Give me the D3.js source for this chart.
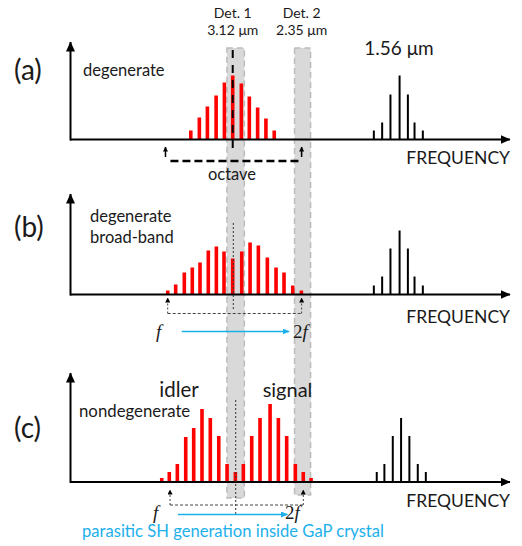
<!DOCTYPE html>
<html>
<head>
<meta charset="utf-8" />
<script src="https://cdn.jsdelivr.net/npm/d3@7"></script>
<style>
  body { margin: 0; background: #fff; }
  svg text { font-family: Lato, "Open Sans", sans-serif; fill: #1a1a1a; }
</style>
</head>
<body>
<div id="chart"></div>
<script>
// comb line positions (mode units) and heights (arbitrary units)
var redA_pos = [14.55, 15.58, 16.55, 17.6, 18.6, 19.6, 20.64, 21.6, 22.6, 23.6, 24.6];
var redA_h   = [9, 22, 33, 44, 57, 64, 56, 43, 32, 21, 9];
var blackA_pos = [36.6, 37.6, 38.6, 39.7, 40.7, 41.5, 42.5];
var blackA_h   = [9, 17, 45, 64, 45, 17, 9];

var redB_pos = [11.77, 12.73, 13.77, 14.73, 15.66, 16.66, 17.63, 18.55, 19.6, 20.69, 21.69, 22.69, 23.77, 24.82, 25.78, 26.83, 27.87];
var redB_h   = [4, 10, 22, 27, 32, 44, 48, 43, 36, 43, 52, 49, 37, 27, 22, 9, 4];
var blackB_pos = [36.6, 37.6, 38.6, 39.7, 40.7, 41.5, 42.5];
var blackB_h   = [9, 18, 46, 64, 46, 18, 9];

var redC_pos = [11.05, 11.96, 12.93, 13.94, 14.9, 15.9, 16.9, 17.92, 18.92, 19.92, 20.88, 21.89, 22.89, 24.1, 25.1, 26.1, 27.14, 28.1, 29.04];
var redC_h   = [4, 10, 18, 45, 54, 73, 64, 46, 18, 10, 18, 46, 64, 78, 64, 46, 18, 10, 4];
var blackC_pos = [36.95, 37.87, 38.88, 39.88, 40.88, 41.89, 42.86];
var blackC_h   = [10, 18, 46, 64, 46, 18, 10];

// detector windows (mode units)
var detBands = [[18.9, 21.0], [27.05, 28.98]];
var detLabels = [["Det. 1", "3.12 \u03bcm"], ["Det. 2", "2.35 \u03bcm"]];
var detCenters = [19.6, 27.9];

var panels = [
  { id: "(a)", base: 139.5, top: 42, red: [redA_pos, redA_h], black: [blackA_pos, blackA_h], freqY: 164, labelY: 80 },
  { id: "(b)", base: 294.5, top: 194, red: [redB_pos, redB_h], black: [blackB_pos, blackB_h], freqY: 323, labelY: 237 },
  { id: "(c)", base: 482, top: 373, red: [redC_pos, redC_h], black: [blackC_pos, blackC_h], freqY: 506.5, labelY: 438 }
];

var W = 522, H = 546;
var svg = d3.select("#chart").append("svg").attr("width", W).attr("height", H);

var x = d3.scaleLinear().domain([0, 53]).range([70, 510]);

var defs = svg.append("defs");
function marker(id, color, w, h) {
  defs.append("marker")
    .attr("id", id)
    .attr("markerUnits", "userSpaceOnUse")
    .attr("viewBox", "0 " + (-h / 2) + " " + w + " " + h)
    .attr("markerWidth", w).attr("markerHeight", h)
    .attr("refX", w - 0.5).attr("refY", 0)
    .attr("orient", "auto")
    .append("path")
    .attr("d", "M0," + (-h / 2) + "L" + w + ",0L0," + (h / 2) + "Z")
    .attr("fill", color);
}
marker("axisHead", "#000", 10, 9);
marker("smallHead", "#000", 5, 5);
marker("blueHead", "#1cb0eb", 7, 6);

// grey detector bands spanning the three panels
var bandBottoms = [498, 495];
svg.selectAll("rect.band")
  .data(detBands).enter()
  .append("rect")
  .attr("class", "band")
  .attr("x", function (d) { return x(d[0]); })
  .attr("width", function (d) { return x(d[1]) - x(d[0]); })
  .attr("y", 48)
  .attr("height", function (d, i) { return bandBottoms[i] - 48; })
  .attr("fill", "#d9d9d9")
  .attr("stroke", "#bcbcbc")
  .attr("stroke-width", 1.5)
  .attr("stroke-dasharray", "6,4");

panels.forEach(function (p) {
  var y = d3.scaleLinear().domain([0, 100]).range([p.base, p.base - 100]);
  var g = svg.append("g");

  // red comb
  g.selectAll("rect.red")
    .data(d3.zip(p.red[0], p.red[1])).enter()
    .append("rect")
    .attr("x", function (d) { return x(d[0]) - 1.8; })
    .attr("width", 3.6)
    .attr("y", function (d) { return y(d[1]); })
    .attr("height", function (d) { return y(0) - y(d[1]); })
    .attr("fill", "#ff0000");

  // pump comb
  g.selectAll("line.pump")
    .data(d3.zip(p.black[0], p.black[1])).enter()
    .append("line")
    .attr("x1", function (d) { return x(d[0]); })
    .attr("x2", function (d) { return x(d[0]); })
    .attr("y1", y(0))
    .attr("y2", function (d) { return y(d[1]); })
    .attr("stroke", "#000")
    .attr("stroke-width", 2);

  // axes
  g.append("line")
    .attr("x1", 70.5).attr("x2", 70.5)
    .attr("y1", p.base + 1).attr("y2", p.top)
    .attr("stroke", "#000").attr("stroke-width", 2)
    .attr("marker-end", "url(#axisHead)");
  g.append("line")
    .attr("x1", 70).attr("x2", x(53))
    .attr("y1", p.base).attr("y2", p.base)
    .attr("stroke", "#000").attr("stroke-width", 2)
    .attr("marker-end", "url(#axisHead)");

  g.append("text")
    .attr("x", 510).attr("y", p.freqY)
    .attr("text-anchor", "end")
    .style("font-size", "17.5px")
    .text("FREQUENCY");

  g.append("text")
    .attr("x", 14).attr("y", p.labelY)
    .style("font-size", "28px")
    .text(p.id);
});

// ---- panel (a) annotations
svg.append("text").attr("x", 83).attr("y", 76).style("font-size", "16.5px").text("degenerate");

detLabels.forEach(function (d, i) {
  svg.append("text").attr("x", x(detCenters[i])).attr("y", 17.5)
    .attr("text-anchor", "middle").style("font-size", "14px").text(d[0]);
  svg.append("text").attr("x", x(detCenters[i])).attr("y", 34.5)
    .attr("text-anchor", "middle").style("font-size", "14px").text(d[1]);
});
svg.append("text").attr("x", 399).attr("y", 55)
  .attr("text-anchor", "middle").style("font-size", "19px").text("1.56 \u03bcm");

svg.append("line")
  .attr("x1", x(19.6)).attr("x2", x(19.6))
  .attr("y1", 50).attr("y2", 150)
  .attr("stroke", "#000").attr("stroke-width", 2)
  .attr("stroke-dasharray", "8,7");

var octave = [11.5, 27.9];
octave.forEach(function (u) {
  svg.append("line")
    .attr("x1", x(u)).attr("x2", x(u))
    .attr("y1", 157).attr("y2", 147)
    .attr("stroke", "#000").attr("stroke-width", 1.5)
    .attr("marker-end", "url(#smallHead)");
});
svg.append("line")
  .attr("x1", x(12.1)).attr("x2", x(27.9))
  .attr("y1", 161).attr("y2", 161)
  .attr("stroke", "#000").attr("stroke-width", 2.5)
  .attr("stroke-dasharray", "8,4");
svg.append("text").attr("x", 232).attr("y", 180)
  .attr("text-anchor", "middle").style("font-size", "16.5px").text("octave");

// ---- panel (b) annotations
svg.append("text").attr("x", 90).attr("y", 221.5).style("font-size", "16.5px").text("degenerate");
svg.append("text").attr("x", 90).attr("y", 243).style("font-size", "16.5px").text("broad-band");

function harmonicBracket(u1, u2, tipY, lineY, midU, midTop, midBottom) {
  [u1, u2].forEach(function (u) {
    svg.append("line")
      .attr("x1", x(u)).attr("x2", x(u))
      .attr("y1", lineY).attr("y2", tipY)
      .attr("stroke", "#444").attr("stroke-width", 1)
      .attr("stroke-dasharray", "2,2")
      .attr("marker-end", "url(#smallHead)");
  });
  svg.append("line")
    .attr("x1", x(u1)).attr("x2", x(u2))
    .attr("y1", lineY).attr("y2", lineY)
    .attr("stroke", "#444").attr("stroke-width", 1)
    .attr("stroke-dasharray", "3,2");
  svg.append("line")
    .attr("x1", x(midU)).attr("x2", x(midU))
    .attr("y1", midTop).attr("y2", midBottom)
    .attr("stroke", "#333").attr("stroke-width", 1)
    .attr("stroke-dasharray", "2,2");
}
function fLabels(fx, f2x, yy) {
  svg.append("text").attr("x", fx).attr("y", yy)
    .style("font-family", "'Liberation Serif', 'DejaVu Serif', serif")
    .style("font-style", "italic").style("font-size", "19px").text("f");
  svg.append("text").attr("x", f2x).attr("y", yy)
    .style("font-family", "'Liberation Serif', 'DejaVu Serif', serif")
    .style("font-size", "19px")
    .text("2").append("tspan").style("font-style", "italic").text("f");
}
function blueArrow(u1, u2, yy) {
  svg.append("line")
    .attr("x1", x(u1)).attr("x2", x(u2))
    .attr("y1", yy).attr("y2", yy)
    .attr("stroke", "#1cb0eb").attr("stroke-width", 1.6)
    .attr("marker-end", "url(#blueHead)");
}

harmonicBracket(11.77, 27.9, 298, 313.5, 19.67, 223, 310);
fLabels(156, 293, 338);
blueArrow(13.46, 26.4, 331.5);

// ---- panel (c) annotations
svg.append("text").attr("x", 179).attr("y", 397)
  .attr("text-anchor", "middle").style("font-size", "20.5px").text("idler");
svg.append("text").attr("x", 287.5).attr("y", 397)
  .attr("text-anchor", "middle").style("font-size", "20px").text("signal");
svg.append("text").attr("x", 79).attr("y", 416.5).style("font-size", "16.8px").text("nondegenerate");

harmonicBracket(12.05, 28.1, 490, 505, 19.96, 400, 515.5);
fLabels(153, 285, 519);
blueArrow(13.0, 26.2, 514.5);

svg.append("text").attr("x", 82).attr("y", 537)
  .style("font-size", "16.6px").style("fill", "#1cb0eb")
  .text("parasitic SH generation inside GaP crystal");
</script>
</body>
</html>
